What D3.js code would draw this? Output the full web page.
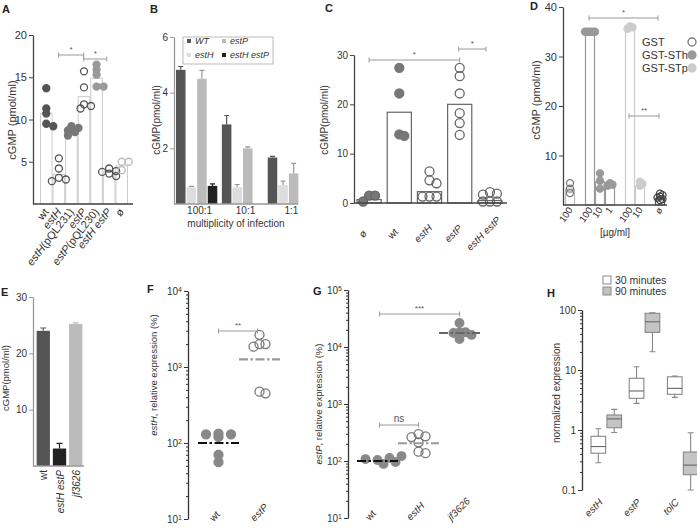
<!DOCTYPE html>
<html>
<head>
<meta charset="utf-8">
<script src="https://cdn.jsdelivr.net/npm/d3@7"></script>
<style>
  body { margin: 0; background: #fff; }
  svg { font-family: "Liberation Sans", Arial, Helvetica, sans-serif; }
</style>
</head>
<body>
<div id="fig"></div>
<script>
// ---------- data ----------
// A
const catsA = ["wt", "estH", "estH(pQL231)", "estP", "estP(pQL230)", "estH estP", "ø"];
const barsA = [10.7, 3.5, 8.7, 12.7, 14.9, 3.8, 4.5];
const dotsA = [
  [13.7, 11.3, 10.7, 9.5, 9.2],
  [5.4, 4.2, 3.1, 2.9, 2.7],
  [9.2, 9.0, 8.7, 8.5, 8.1],
  [15.7, 13.8, 11.8, 11.6, 11.3],
  [16.5, 15.9, 15.3, 13.9, 13.9],
  [4.2, 3.9, 3.8, 3.6, 3.3],
  [5.0, 5.0, 4.0]
];
const ticksA = [5, 10, 15, 20];

// B
const groupsB = ["100:1", "10:1", "1:1"];
const seriesB = ["WT", "estH", "estP", "estH estP"];
const wtB = [4.82, 2.86, 1.67], wtErrB = [0.12, 0.32, 0.04];
const estHB = [0.6, 0.6, 0.68], estHErrB = [0.03, 0.1, 0.14];
const estPB = [4.5, 2.0, 1.1], estPErrB = [0.3, 0.05, 0.36];
const estHPB = [0.65, null, null], estHPErrB = [0.07, null, null];
const ticksB = [2, 4, 6];

// C
const catsC = ["ø", "wt", "estH", "estP", "estH estP"];
const barsC = [0.7, 18.4, 2.3, 20, 0.5];
const dotsC = [
  [1.5, 1.5, 0.3],
  [27.4, 22.2, 13.9, 13.6],
  [6.4, 4.6, 4.0, 1.3, 1.3, 1.3],
  [27.4, 25.7, 22.2, 18.2, 16.2, 13.8],
  [2.2, 1.9, 1.7, 0.3, 0.3, 0.3]
];
const ticksC = [0, 10, 20, 30];

// D
const slotsD = ["GST 100", "gap1", "STh 100", "STh 10", "STh 1", "gap2", "STp 100", "STp 10", "gap3", "ø"];
const catsD = ["GST 100", "STh 100", "STh 10", "STh 1", "STp 100", "STp 10", "ø"];
const labelsD = ["100", "100", "10", "1", "100", "10", "ø"];
const barsD = [3.2, 35, 4.7, 3.8, 36, 3.8, 1.3];
const dotsD = [
  [4.4, 3.3, 2.4],
  [35, 35, 35, 35, 35],
  [6.4, 4.9, 3.3],
  [4.4, 4.1, 3.9],
  [36.1, 35.9, 35.6],
  [4.7, 4.3, 3.9],
  [2.3, 2.0, 1.7, 1.5, 1.2, 1.0]
];
const legendD = ["GST", "GST-STh", "GST-STp"];
const ticksD = [10, 20, 30, 40];

// E
const catsE = ["wt", "estH estP", "jf3626"];
const barsE = [24, 3.1, 25.2];
const errE = [0.5, 0.9, 0.2];
const ticksE = [10, 20, 30];

// F
const catsF = ["wt", "estP"];
const wtF = [133, 130, 130, 120, 70, 56];
const estPF = [2650, 2000, 2000, 1850, 473, 450];
const medF = [100, 1260];

// G
const catsG = ["wt", "estH", "jf3626"];
const wtG = [104, 113, 108, 96, 122, 89];
const estHG = [297, 271, 263, 213, 146, 137];
const jfG = [26300, 18100, 18100, 17600, 16300, 13800];
const medG = [100, 205, 17600];

// H  (min, q1, median, q3, max)
const genesH = ["estH", "estP", "tolC"];
const timesH = ["30 minutes", "90 minutes"];
const box30H = [[0.285, 0.41, 0.53, 0.785, 1.05], [2.78, 3.37, 4.47, 7.27, 11.3], [3.5, 3.93, 4.95, 7.7, 7.9]];
const box90H = [[0.91, 1.09, 1.53, 1.78, 2.21], [20.2, 42.4, 63.6, 88, 90], [0.1, 0.18, 0.26, 0.43, 0.9]];

// ---------- helpers ----------
const FONT = '"Liberation Sans", Arial, Helvetica, sans-serif';
const svg = d3.select("#fig").append("svg")
  .attr("width", 697).attr("height", 528)
  .attr("viewBox", [0, 0, 697, 528]);

function letter(t, x, y) {
  svg.append("text").attr("x", x).attr("y", y)
    .attr("font-weight", "bold").attr("font-size", 11).attr("fill", "#222").text(t);
}

// italic gene names
function richText(sel, str) {
  str.split(/(est[HP]|tolC|jf3626)/).filter(s => s).forEach(s => {
    sel.append("tspan")
      .attr("font-style", /^(est[HP]|tolC|jf3626)$/.test(s) ? "italic" : null)
      .text(s);
  });
}

function yTitle(str, x, y, size) {
  const t = svg.append("text")
    .attr("transform", `translate(${x},${y}) rotate(-90)`)
    .attr("text-anchor", "middle").attr("font-size", size).attr("fill", "#333");
  richText(t, str);
}

function bracket(x1, x2, y, label, size = 8) {
  svg.append("path")
    .attr("d", `M${x1},${y - 2.5}V${y + 2.5}M${x1},${y}H${x2}M${x2},${y - 2.5}V${y + 2.5}`)
    .attr("stroke", "#999").attr("fill", "none");
  svg.append("text").attr("x", (x1 + x2) / 2).attr("y", y - 3)
    .attr("text-anchor", "middle").attr("font-size", size).attr("fill", "#555").text(label);
}

function leftAxis(y, x, ticks, color, size, fmt) {
  return svg.append("g").attr("transform", `translate(${x},0)`)
    .call(d3.axisLeft(y).tickValues(ticks).tickSize(4).tickSizeOuter(0).tickPadding(2)
      .tickFormat(fmt || d3.format("")))
    .attr("font-family", FONT).attr("font-size", size)
    .call(g => g.select(".domain").attr("stroke", color).attr("stroke-width", 1.3))
    .call(g => g.selectAll(".tick line").attr("stroke", color))
    .call(g => g.selectAll(".tick text").attr("fill", "#333"));
}

function minorTicks(y, x, decades, color) {
  const minor = [];
  decades.slice(0, -1).forEach(d => { for (let k = 2; k <= 9; k++) minor.push(d * k); });
  svg.append("g").attr("transform", `translate(${x},0)`)
    .call(d3.axisLeft(y).tickValues(minor).tickSize(2).tickFormat(""))
    .call(g => g.select(".domain").remove())
    .call(g => g.selectAll(".tick line").attr("stroke", color));
}

function supAxis(y, x, decades, color) {
  leftAxis(y, x, decades, color, 10, () => "")
    .call(g => g.selectAll(".tick text").each(function (d) {
      const t = d3.select(this);
      t.append("tspan").text("10");
      t.append("tspan").attr("dy", "-0.45em").attr("font-size", 7).text(Math.round(Math.log10(d)));
    }));
  minorTicks(y, x, decades, color);
}

// simple swarm: keeps points at least minDist apart, shifting sideways by step
function swarm(vals, y, minDist, step) {
  const placed = [];
  vals.forEach(v => {
    const py = y(v);
    for (let k = 0; k < 30; k++) {
      const off = k === 0 ? 0 : Math.ceil(k / 2) * step * (k % 2 ? 1 : -1);
      if (placed.every(p => Math.hypot(p.dx - off, p.y - py) >= minDist - 1e-6)) {
        placed.push({ v, dx: off, y: py });
        break;
      }
    }
  });
  return placed;
}

function dots(vals, cx, y, r, fill, stroke, minDist, step) {
  svg.append("g").selectAll("circle").data(swarm(vals, y, minDist, step)).join("circle")
    .attr("cx", d => cx + d.dx).attr("cy", d => d.y).attr("r", r)
    .attr("fill", fill).attr("stroke", stroke).attr("stroke-width", 1.3);
}

// ---------- A ----------
letter("A", 2, 13);
const yA = d3.scaleLinear([0, 20], [204, 35]);
const xA = d3.scaleBand(catsA, [40, 128]);
svg.append("g").selectAll("rect").data(catsA).join("rect")
  .attr("x", d => xA(d) + 0.5).attr("width", xA.bandwidth() - 1)
  .attr("y", (d, i) => yA(barsA[i])).attr("height", (d, i) => yA(0) - yA(barsA[i]))
  .attr("fill", "#fff").attr("stroke", "#ccc");
const fillA = ["#555", "none", "#777", "none", "#999", "none", "none"];
const strokeA = ["#555", "#555", "#777", "#555", "#999", "#555", "#bbb"];
catsA.forEach((c, i) => dots(dotsA[i], xA(c) + xA.bandwidth() / 2, yA, 3.5, fillA[i], strokeA[i], 5, 3.5));
leftAxis(yA, 33, ticksA, "#444", 11);
svg.append("line").attr("x1", 33).attr("x2", 133).attr("y1", 204).attr("y2", 204)
  .attr("stroke", "#444").attr("stroke-width", 1.3);
svg.append("g").selectAll("text").data(catsA).join("text")
  .attr("transform", d => `translate(${xA(d) + xA.bandwidth() / 2 + 3},212) rotate(-52)`)
  .attr("text-anchor", "end").attr("font-size", 11).attr("fill", "#333")
  .each(function (d) { richText(d3.select(this), d); });
yTitle("cGMP (pmol/ml)", 16, 120, 11);
bracket(xA("estH") + 6, xA("estP") + 6, 55, "*");
bracket(xA("estP") + 6, xA("estH estP") + 4, 59, "*");

// ---------- B ----------
letter("B", 150, 13);
const yB = d3.scaleLinear([0, 6], [204, 37]);
const xB0 = d3.scaleBand(groupsB, [176, 309]).paddingInner(0.1);
const xB1 = d3.scaleBand(seriesB, [0, xB0.bandwidth()]).paddingInner(0.1);
const colB = { "WT": "#555", "estH": "#ddd", "estP": "#bbb", "estH estP": "#222" };
const errColB = { "WT": "#555", "estH": "#999", "estP": "#999", "estH estP": "#222" };
const tableB = [];
[[wtB, wtErrB], [estHB, estHErrB], [estPB, estPErrB], [estHPB, estHPErrB]].forEach(([v, e], si) => {
  groupsB.forEach((g, gi) => {
    if (v[gi] != null) tableB.push({ g, s: seriesB[si], v: v[gi], e: e[gi] });
  });
});
const gB = svg.append("g");
gB.selectAll("line.err").data(tableB).join("path")
  .attr("d", d => {
    const cx = xB0(d.g) + xB1(d.s) + xB1.bandwidth() / 2;
    return `M${cx},${yB(d.v)}V${yB(d.v + d.e)}M${cx - 2.5},${yB(d.v + d.e)}H${cx + 2.5}`;
  })
  .attr("stroke", d => errColB[d.s]).attr("stroke-width", 1.2);
gB.selectAll("rect").data(tableB).join("rect")
  .attr("x", d => xB0(d.g) + xB1(d.s)).attr("width", xB1.bandwidth())
  .attr("y", d => yB(d.v)).attr("height", d => yB(0) - yB(d.v))
  .attr("fill", d => colB[d.s]);
leftAxis(yB, 174, ticksB, "#999", 10);
svg.append("line").attr("x1", 174).attr("x2", 298).attr("y1", 204).attr("y2", 204)
  .attr("stroke", "#999").attr("stroke-width", 1.3);
svg.append("g").selectAll("text").data(groupsB).join("text")
  .attr("x", d => xB0(d) + xB0.bandwidth() / 2 + 3).attr("y", 214)
  .attr("text-anchor", "middle").attr("font-size", 10).attr("fill", "#333").text(d => d);
svg.append("text").attr("x", 236).attr("y", 227).attr("text-anchor", "middle")
  .attr("font-size", 10).attr("fill", "#333").text("multiplicity of infection");
yTitle("cGMP(pmol/ml)", 160, 120, 10);
// legend
svg.append("rect").attr("x", 183).attr("y", 37).attr("width", 90).attr("height", 27)
  .attr("fill", "#fff").attr("stroke", "#aaa").attr("stroke-width", 0.8);
const legPosB = [[187, 44], [187, 58], [222, 44], [222, 58]];
seriesB.forEach((s, i) => {
  const [lx, ly] = legPosB[i];
  svg.append("rect").attr("x", lx).attr("y", ly - 5).attr("width", 4).attr("height", 4).attr("fill", colB[s]);
  const t = svg.append("text").attr("x", lx + 8).attr("y", ly).attr("font-size", 9).attr("fill", "#333");
  if (s === "WT") t.attr("font-style", "italic").text(s); else richText(t, s);
});

// ---------- C ----------
letter("C", 325, 12);
const yC = d3.scaleLinear([0, 30], [203, 55]);
const xC = d3.scaleBand(catsC, [354, 505]).paddingInner(0.2).paddingOuter(0.1);
svg.append("g").selectAll("rect").data(catsC).join("rect")
  .attr("x", d => xC(d)).attr("width", xC.bandwidth())
  .attr("y", (d, i) => yC(barsC[i])).attr("height", (d, i) => yC(0) - yC(barsC[i]))
  .attr("fill", "#fff").attr("stroke", "#666").attr("stroke-width", 1.2);
const fillC = ["#777", "#777", "none", "none", "none"];
const strokeC = ["#666", "#777", "#666", "#666", "#666"];
const sepC = [[6, 6], [4, 5], [5, 7], [5, 7], [5, 7]];
catsC.forEach((c, i) => dots(dotsC[i], xC(c) + xC.bandwidth() / 2, yC, 4.5, fillC[i], strokeC[i], sepC[i][0], sepC[i][1]));
leftAxis(yC, 354, ticksC, "#444", 10);
svg.append("line").attr("x1", 354).attr("x2", 507).attr("y1", 203).attr("y2", 203)
  .attr("stroke", "#444").attr("stroke-width", 1.3);
svg.append("g").selectAll("text").data(catsC).join("text")
  .attr("transform", d => `translate(${xC(d) + xC.bandwidth() / 2 - 4},236) rotate(-45)`)
  .attr("text-anchor", "middle").attr("font-size", 10).attr("fill", "#333")
  .each(function (d) { richText(d3.select(this), d); });
yTitle("cGMP(pmol/ml)", 328, 120, 10);
bracket(xC("ø") + xC.bandwidth() / 2, xC("estP") + xC.bandwidth() / 2, 60, "*");
bracket(xC("estP") + xC.bandwidth() / 2 - 1, xC("estH estP") + xC.bandwidth() / 2 - 4, 49, "*");

// ---------- D ----------
letter("D", 530, 10);
const yD = d3.scaleLinear([0, 40], [205, 7]);
const xD = d3.scaleBand(slotsD, [565, 665]);
const strokeBarD = ["#bbb", "#999", "#999", "#999", "#ccc", "#ccc", "#555"];
const fillDotD = ["none", "#999", "#999", "#999", "#ccc", "#ccc", "none"];
const strokeDotD = ["#777", "#999", "#999", "#999", "#ccc", "#ccc", "#444"];
svg.append("g").selectAll("rect").data(catsD).join("rect")
  .attr("x", d => xD(d) + 0.5).attr("width", xD.bandwidth() - 1)
  .attr("y", (d, i) => yD(barsD[i])).attr("height", (d, i) => yD(0) - yD(barsD[i]))
  .attr("fill", "#fff").attr("stroke", (d, i) => strokeBarD[i]).attr("stroke-width", 1.2);
catsD.forEach((c, i) => dots(dotsD[i], xD(c) + xD.bandwidth() / 2, yD, 3.5, fillDotD[i], strokeDotD[i], 2.5, 2.5));
leftAxis(yD, 563, ticksD, "#444", 11);
svg.append("line").attr("x1", 563).attr("x2", 667).attr("y1", 205).attr("y2", 205)
  .attr("stroke", "#444").attr("stroke-width", 1.3);
svg.append("g").selectAll("text").data(catsD).join("text")
  .attr("transform", d => `translate(${xD(d) + xD.bandwidth() / 2 + 3},210) rotate(-55)`)
  .attr("text-anchor", "end").attr("font-size", 9.5).attr("fill", "#333")
  .text((d, i) => labelsD[i]);
svg.append("text").attr("x", 615).attr("y", 236).attr("text-anchor", "middle")
  .attr("font-size", 10).attr("fill", "#333").text("[µg/ml]");
yTitle("cGMP (pmol/ml)", 540, 100, 11);
bracket(xD("STh 100") + 4, xD("ø") + 3, 18, "*");
bracket(xD("STp 100") + 4, xD("ø") + 4, 116, "**");
legendD.forEach((s, i) => {
  const ly = 46 + i * 13;
  svg.append("text").attr("x", 642).attr("y", ly).attr("font-size", 11).attr("fill", "#333").text(s);
  svg.append("circle").attr("cx", 692).attr("cy", ly - 4).attr("r", 4)
    .attr("fill", fillDotD[[0, 1, 4][i]]).attr("stroke", strokeDotD[[0, 1, 4][i]]).attr("stroke-width", 1.3);
});

// ---------- E ----------
letter("E", 1, 296);
const yE = d3.scaleLinear([0, 30], [466, 297]);
const xE = d3.scaleBand(catsE, [35, 84]).paddingInner(0.18).paddingOuter(0.1);
const colE = ["#555", "#222", "#bbb"];
svg.append("g").selectAll("path").data(catsE).join("path")
  .attr("d", (d, i) => {
    const cx = xE(d) + xE.bandwidth() / 2;
    return `M${cx},${yE(barsE[i])}V${yE(barsE[i] + errE[i])}M${cx - 3},${yE(barsE[i] + errE[i])}H${cx + 3}`;
  })
  .attr("stroke", (d, i) => colE[i]).attr("stroke-width", 1.2);
svg.append("g").selectAll("rect").data(catsE).join("rect")
  .attr("x", d => xE(d)).attr("width", xE.bandwidth())
  .attr("y", (d, i) => yE(barsE[i])).attr("height", (d, i) => yE(0) - yE(barsE[i]))
  .attr("fill", (d, i) => colE[i]);
leftAxis(yE, 33, ticksE, "#999", 10);
svg.append("line").attr("x1", 33).attr("x2", 84).attr("y1", 466).attr("y2", 466)
  .attr("stroke", "#999").attr("stroke-width", 1.3);
svg.append("g").selectAll("text").data(catsE).join("text")
  .attr("transform", d => `translate(${xE(d) + xE.bandwidth() / 2 + 4},470) rotate(-90)`)
  .attr("text-anchor", "end").attr("font-size", 10).attr("fill", "#333")
  .each(function (d) { richText(d3.select(this), d); });
yTitle("cGMP(pmol/ml)", 9, 378, 9.5);

// ---------- F ----------
letter("F", 147, 293);
const yF = d3.scaleLog([10, 1e4], [519, 291]);
const xF = d3.scaleBand(catsF, [198, 280]);
const cxF = c => xF(c) + xF.bandwidth() / 2;
dots(wtF, cxF("wt"), yF, 4.5, "#888", "#888", 3, 12.5);
dots(estPF, cxF("estP"), yF, 4.5, "none", "#777", 6, 6);
const colMedF = ["#111", "#999"];
svg.append("g").selectAll("line").data(catsF).join("line")
  .attr("x1", d => xF(d)).attr("x2", d => xF(d) + xF.bandwidth())
  .attr("y1", (d, i) => yF(medF[i])).attr("y2", (d, i) => yF(medF[i]))
  .attr("stroke", (d, i) => colMedF[i]).attr("stroke-width", 2.2)
  .attr("stroke-dasharray", "9,2.5,2.5,2.5");
supAxis(yF, 188, [10, 100, 1000, 10000], "#333");
svg.append("g").selectAll("text").data(catsF).join("text")
  .attr("transform", d => `translate(${cxF(d) - 5},522) rotate(-45)`)
  .attr("font-size", 10).attr("fill", "#333")
  .each(function (d) { richText(d3.select(this), d); });
yTitle("estH, relative expression (%)", 157, 375, 9.5);
bracket(cxF("wt"), cxF("estP") - 2, 331, "**");

// ---------- G ----------
letter("G", 313, 295);
const yG = d3.scaleLog([10, 1e5], [518, 290]);
const xG = d3.scaleBand(catsG, [357, 480]);
const cxG = c => xG(c) + xG.bandwidth() / 2;
dots(wtG, cxG("wt"), yG, 4.3, "#888", "#888", 7, 6);
dots(estHG, cxG("estH"), yG, 4.5, "none", "#777", 6, 7);
dots(jfG, cxG("jf3626"), yG, 4.3, "#888", "#888", 6, 6);
const colMedG = ["#111", "#999", "#666"];
svg.append("g").selectAll("line").data(catsG).join("line")
  .attr("x1", d => xG(d)).attr("x2", d => xG(d) + xG.bandwidth())
  .attr("y1", (d, i) => yG(medG[i])).attr("y2", (d, i) => yG(medG[i]))
  .attr("stroke", (d, i) => colMedG[i]).attr("stroke-width", 2.2)
  .attr("stroke-dasharray", "9,2.5,2.5,2.5");
supAxis(yG, 348, [10, 100, 1000, 10000, 100000], "#333");
svg.append("g").selectAll("text").data(catsG).join("text")
  .attr("transform", d => `translate(${cxG(d) - 8},521) rotate(-45)`)
  .attr("font-size", 10).attr("fill", "#333")
  .each(function (d) { richText(d3.select(this), d); });
yTitle("estP, relative expression (%)", 322, 404, 9.5);
bracket(cxG("wt") + 2, cxG("jf3626"), 314, "***");
bracket(cxG("wt") + 2, cxG("estH"), 425, "ns", 10);

// ---------- H ----------
letter("H", 547, 297);
const yH = d3.scaleLog([0.1, 100], [490, 310]);
const xH0 = d3.scaleBand(genesH, [591, 698]).paddingInner(0.2);
const xH1 = d3.scaleBand(timesH, [0, xH0.bandwidth()]).paddingInner(0.08);
const fillH = { "30 minutes": "#fff", "90 minutes": "#c4c4c4" };
const tableH = [];
genesH.forEach((g, i) => {
  tableH.push({ g, t: timesH[0], b: box30H[i] });
  tableH.push({ g, t: timesH[1], b: box90H[i] });
});
const gH = svg.append("g").attr("stroke", "#888").attr("stroke-width", 1.1);
tableH.forEach(d => {
  const x0 = xH0(d.g) + xH1(d.t), w = xH1.bandwidth(), cx = x0 + w / 2;
  const [mn, q1, md, q3, mx] = d.b;
  gH.append("path").attr("fill", "none")
    .attr("d", `M${cx},${yH(mn)}V${yH(q1)}M${cx},${yH(q3)}V${yH(mx)}` +
      `M${cx - 3},${yH(mn)}H${cx + 3}M${cx - 3},${yH(mx)}H${cx + 3}`);
  gH.append("rect").attr("x", x0).attr("width", w)
    .attr("y", yH(q3)).attr("height", yH(q1) - yH(q3)).attr("fill", fillH[d.t]);
  gH.append("line").attr("x1", x0).attr("x2", x0 + w)
    .attr("y1", yH(md)).attr("y2", yH(md)).attr("stroke", "#666");
});
leftAxis(yH, 582, [0.1, 1, 10, 100], "#333", 10, d3.format("~g"));
minorTicks(yH, 582, [0.1, 1, 10, 100], "#333");
svg.append("g").selectAll("text").data(genesH).join("text")
  .attr("transform", d => `translate(${xH0(d) + xH0.bandwidth() / 2 - 3},503) rotate(-45)`)
  .attr("text-anchor", "end").attr("font-size", 10).attr("fill", "#333")
  .each(function (d) { richText(d3.select(this), d); });
yTitle("normalized expression", 560, 393, 10);
timesH.forEach((t, i) => {
  const ly = 276 + i * 11;
  svg.append("rect").attr("x", 603).attr("y", ly).attr("width", 8).attr("height", 8)
    .attr("fill", fillH[t]).attr("stroke", "#888");
  svg.append("text").attr("x", 615).attr("y", ly + 8).attr("font-size", 10.5).attr("fill", "#333").text(t);
});
</script>
</body>
</html>
